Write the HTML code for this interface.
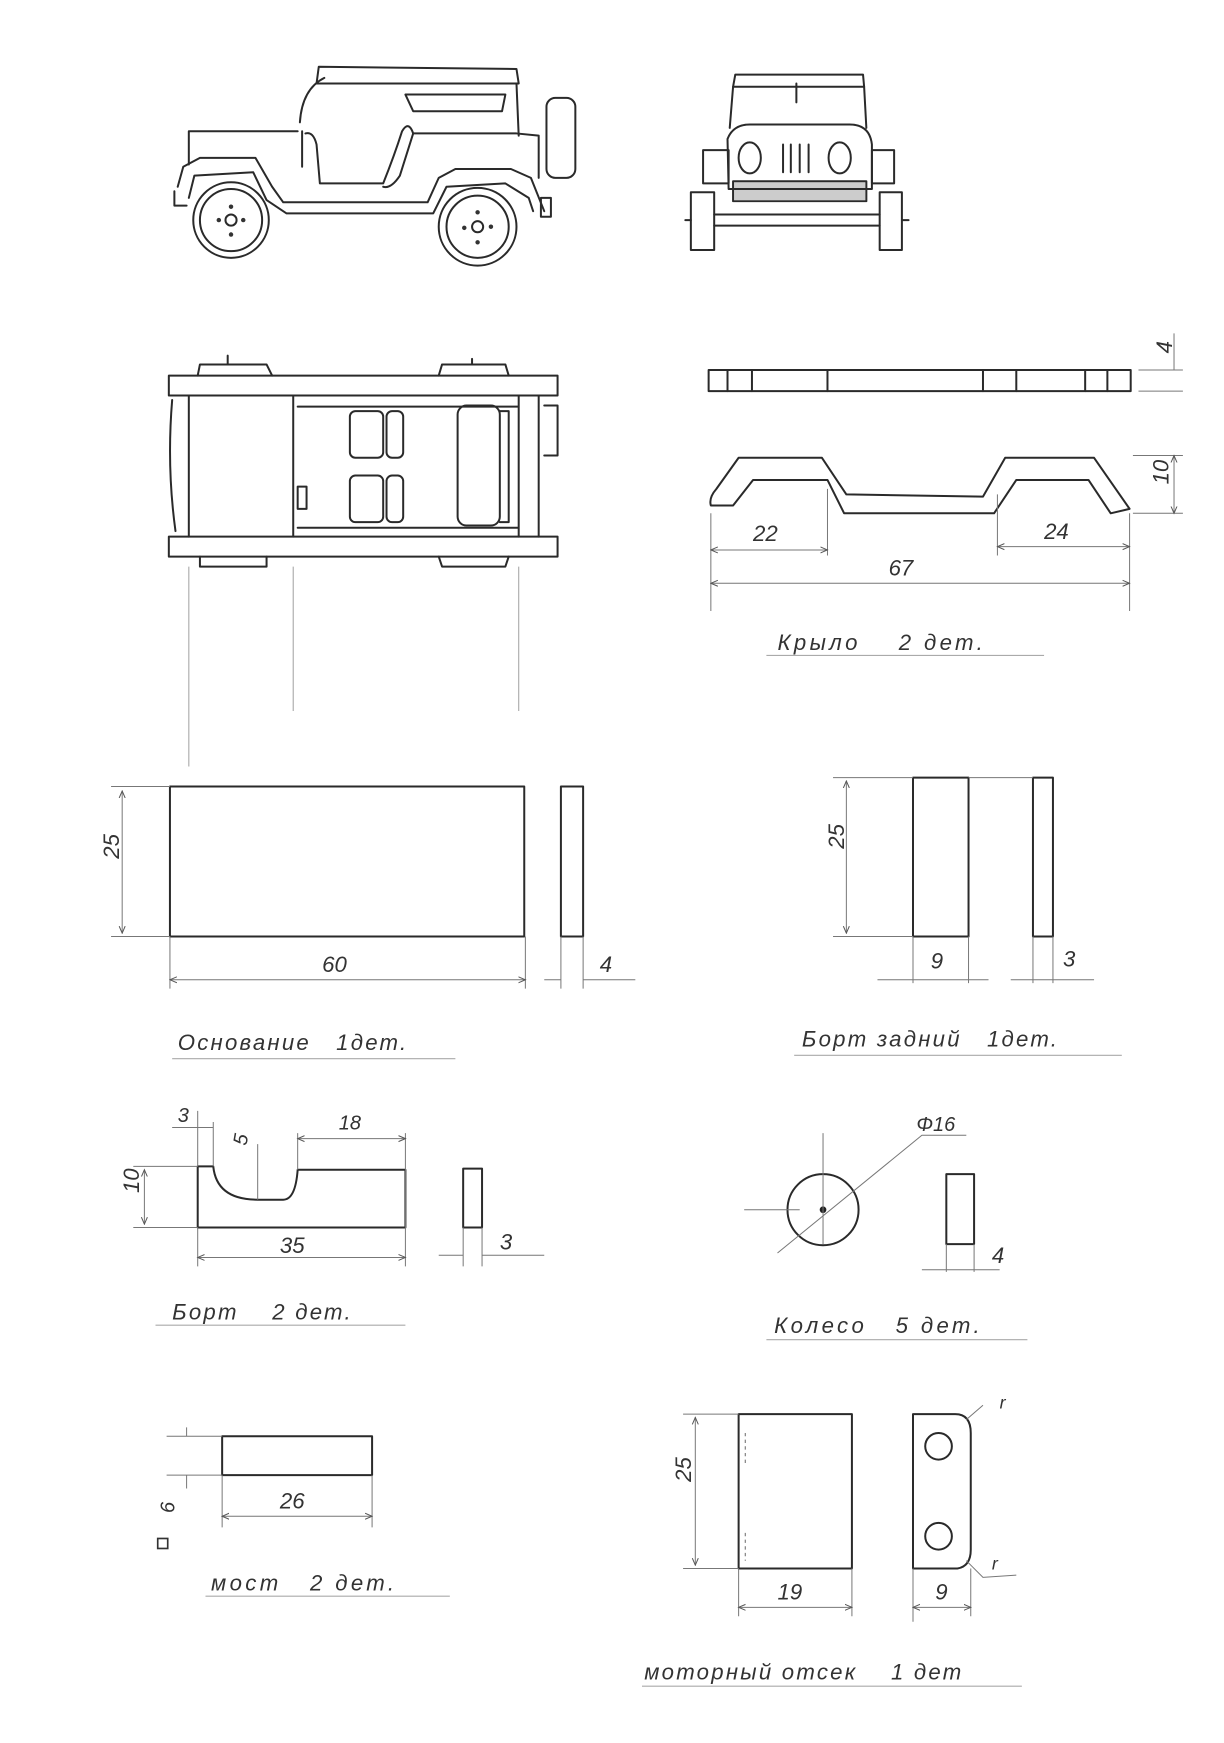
<!DOCTYPE html>
<html><head><meta charset="utf-8">
<style>
html,body{margin:0;padding:0;background:#fff;}
svg{display:block;}
text{font-family:"Liberation Sans",sans-serif;font-style:italic;fill:#333;}
.l{fill:none;stroke:#2a2a2a;stroke-width:1.8;stroke-linecap:round;stroke-linejoin:round;}
.t{fill:none;stroke:#777;stroke-width:0.9;}
.u{fill:none;stroke:#aaa;stroke-width:1;}
</style></head><body>
<svg width="1224" height="1743" viewBox="0 0 1102 1569" xmlns="http://www.w3.org/2000/svg">
<defs><marker id="a" markerWidth="8" markerHeight="8" refX="7" refY="4" orient="auto-start-reverse"><path d="M0,1 L7,4 L0,7" fill="none" stroke="#555" stroke-width="1"/></marker></defs>

<!-- SIDE VIEW CAR -->
<g class="l">
<path d="M285,75 L287,60 L465,62 L467,75 Z"/>
<path d="M270,110 Q272,80 292,70 M465,75 L467,122"/>
<path d="M365,85 L455,85 L452,100 L372,100 Z"/>
<path d="M170,118 L268,118 M170,118 L170,148 M272,118 L272,150"/>
<path d="M275,120 Q282,118 285,130 L288,165 L345,165 Q355,140 362,118 Q368,108 372,120 L360,158 Q352,170 345,168"/>
<path d="M372,120 L465,120 L485,122 L485,160"/>
<rect x="492" y="88" width="26" height="72" rx="8"/>
<path d="M160,168 L165,150 L180,142 L230,142 L245,168 L255,182 L385,182 L395,160 L410,152 L460,152 L478,160 L490,190"/>
<path d="M170,178 L175,158 L228,155 L240,180 L258,192 L390,192 L402,168 L455,165 L476,178 L480,190"/>
<path d="M157,172 L157,185 L168,185"/>
<rect x="487" y="178" width="9" height="17"/>
<circle cx="208" cy="198" r="34"/><circle cx="208" cy="198" r="28"/><circle cx="208" cy="198" r="5"/>
<circle cx="430" cy="204" r="35"/><circle cx="430" cy="204" r="28"/><circle cx="430" cy="204" r="5"/>
</g>
<g fill="#333"><circle cx="208" cy="186" r="2"/><circle cx="197" cy="198" r="2"/><circle cx="219" cy="198" r="2"/><circle cx="208" cy="211" r="2"/>
<circle cx="430" cy="191" r="2"/><circle cx="418" cy="205" r="2"/><circle cx="442" cy="204" r="2"/><circle cx="430" cy="218" r="2"/></g>

<!-- FRONT VIEW -->
<rect x="661" y="164" width="118" height="16" fill="#ccc"/>
<g class="l">
<path d="M660,78 L662,67 L777,67 L778,78 Z"/>
<path d="M660,78 L657,115 M778,78 L780,115 M717,75 L717,92"/>
<path d="M656,170 L655,125 Q660,112 675,112 L765,112 Q783,112 785,130 L785,170 Z"/>
<ellipse cx="675" cy="142" rx="10" ry="14"/><ellipse cx="756" cy="142" rx="10" ry="14"/>
<path d="M705,130 L705,155 M712,130 L712,155 M720,130 L720,155 M728,130 L728,155"/>
<rect x="660" y="163" width="120" height="18"/>
<rect x="633" y="135" width="23" height="30"/><rect x="785" y="135" width="20" height="30"/>
<rect x="622" y="173" width="21" height="52"/><rect x="792" y="173" width="20" height="52"/>
<path d="M643,193 L792,193 M643,203 L792,203 M617,198 L622,198 M812,198 L818,198"/>
</g>

<!-- TOP VIEW -->
<g class="l">
<rect x="152" y="338" width="350" height="18"/>
<rect x="152" y="483" width="350" height="18"/>
<path d="M170,356 L170,483 M155,360 Q150,420 158,478 M264,356 L264,483 M268,366 L467,366 M268,475 L467,475 M467,356 L467,483 M485,356 L485,483"/>
<path d="M178,338 L180,328 L240,328 L245,338 M395,338 L398,328 L455,328 L458,338 M205,320 L205,328 M425,323 L425,328"/>
<path d="M180,501 L180,510 L240,510 L240,501 M395,501 L398,510 L455,510 L458,501"/>
<rect x="315" y="370" width="30" height="42" rx="5"/><rect x="348" y="370" width="15" height="42" rx="5"/>
<rect x="315" y="428" width="30" height="42" rx="5"/><rect x="348" y="428" width="15" height="42" rx="5"/>
<rect x="412" y="365" width="38" height="108" rx="8"/><path d="M450,370 L458,370 L458,470 L450,470"/>
<rect x="268" y="438" width="8" height="20"/>
<path d="M490,365 L502,365 L502,410 L490,410"/>
</g>
<path class="u" d="M170,510 L170,690 M264,510 L264,640 M467,510 L467,640"/>

<!-- FENDER -->
<g class="l">
<rect x="638" y="333" width="380" height="19"/>
<path d="M655,333 L655,352 M677,333 L677,352 M745,333 L745,352 M885,333 L885,352 M915,333 L915,352 M977,333 L977,352 M997,333 L997,352"/>
<path d="M640,455 Q638,448 645,440 L665,412 L740,412 L762,445 L885,447 L905,412 L985,412 L1017,458 L1000,462 L980,432 L915,432 L895,462 L760,462 L745,432 L678,432 L660,455 Z"/>
</g>
<g class="t">
<path d="M1025,352 L1065,352 M1025,333 L1065,333 M1057,300 L1057,333 M1020,410 L1065,410 M1020,462 L1065,462"/>
<path d="M1057,410 L1057,462" marker-start="url(#a)" marker-end="url(#a)"/>
<path d="M640,462 L640,550 M745,440 L745,500 M898,445 L898,500 M1017,462 L1017,550"/>
<path d="M640,495 L745,495" marker-start="url(#a)" marker-end="url(#a)"/>
<path d="M898,492 L1017,492" marker-start="url(#a)" marker-end="url(#a)"/>
<path d="M640,525 L1017,525" marker-start="url(#a)" marker-end="url(#a)"/>
</g>
<text x="1048" y="325" font-size="20" transform="rotate(-90 1048 318)">4</text>
<text x="1048" y="440" font-size="20" transform="rotate(-90 1048 436)">10</text>
<text x="678" y="487" font-size="20">22</text>
<text x="940" y="485" font-size="20">24</text>
<text x="800" y="518" font-size="20">67</text>
<text x="700" y="585" font-size="20" letter-spacing="3">Крыло&#160;&#160;&#160;&#160;2 дет.</text>
<path class="u" d="M690,590 L940,590"/>

<!-- ОСНОВАНИЕ -->
<g class="l"><rect x="153" y="708" width="319" height="135"/><rect x="505" y="708" width="20" height="135"/></g>
<g class="t">
<path d="M100,708 L153,708 M100,843 L153,843 M153,843 L153,890 M473,843 L473,890 M505,843 L505,890 M525,843 L525,890"/>
<path d="M110,712 L110,840" marker-start="url(#a)" marker-end="url(#a)"/>
<path d="M153,882 L473,882" marker-start="url(#a)" marker-end="url(#a)"/>
<path d="M490,882 L505,882 M525,882 L572,882"/>
</g>
<text x="105" y="785" font-size="20" transform="rotate(-90 100 778)">25</text>
<text x="290" y="875" font-size="20">60</text>
<text x="540" y="875" font-size="20">4</text>
<text x="160" y="945" font-size="20" letter-spacing="2">Основание&#160;&#160;&#160;1дет.</text>
<path class="u" d="M155,953 L410,953"/>

<!-- БОРТ ЗАДНИЙ -->
<g class="l"><rect x="822" y="700" width="50" height="143"/><rect x="930" y="700" width="18" height="143"/></g>
<g class="t">
<path d="M750,700 L822,700 M872,700 L930,700 M750,843 L822,843 M822,843 L822,885 M872,843 L872,885 M930,843 L930,885 M948,843 L948,885"/>
<path d="M762,703 L762,840" marker-start="url(#a)" marker-end="url(#a)"/>
<path d="M790,882 L890,882 M910,882 L985,882"/>
</g>
<text x="760" y="780" font-size="20" transform="rotate(-90 752 772)">25</text>
<text x="838" y="872" font-size="20">9</text>
<text x="957" y="870" font-size="20">3</text>
<text x="722" y="942" font-size="20" letter-spacing="2">Борт задний&#160;&#160;&#160;1дет.</text>
<path class="u" d="M715,950 L1010,950"/>

<!-- БОРТ -->
<g class="l">
<path d="M178,1105 L178,1050 L192,1050 Q195,1080 232,1080 L255,1080 Q266,1080 268,1053 L365,1053 L365,1105 Z"/>
<rect x="417" y="1052" width="17" height="53"/>
</g>
<g class="t">
<path d="M120,1050 L178,1050 M120,1105 L178,1105 M178,1000 L178,1050 M192,1010 L192,1050 M268,1020 L268,1053 M365,1020 L365,1140 M178,1105 L178,1140 M417,1105 L417,1140 M434,1105 L434,1140"/>
<path d="M130,1053 L130,1102" marker-start="url(#a)" marker-end="url(#a)"/>
<path d="M178,1132 L365,1132" marker-start="url(#a)" marker-end="url(#a)"/>
<path d="M268,1025 L365,1025" marker-start="url(#a)" marker-end="url(#a)"/>
<path d="M155,1015 L192,1015 M232,1030 L232,1080 M395,1130 L417,1130 M434,1130 L490,1130"/>
</g>
<text x="122" y="1085" font-size="20" transform="rotate(-90 118 1078)">10</text>
<text x="252" y="1128" font-size="20">35</text>
<text x="160" y="1010" font-size="18">3</text>
<text x="212" y="1030" font-size="18" transform="rotate(-80 218 1025)">5</text>
<text x="305" y="1017" font-size="18">18</text>
<text x="450" y="1125" font-size="20">3</text>
<text x="155" y="1188" font-size="20" letter-spacing="2">Борт&#160;&#160;&#160;&#160;2 дет.</text>
<path class="u" d="M140,1193 L365,1193"/>

<!-- КОЛЕСО -->
<g class="l"><circle cx="741" cy="1089" r="32"/><rect x="852" y="1057" width="25" height="63"/></g>
<circle cx="741" cy="1089" r="3" fill="#222"/>
<g class="t"><path d="M700,1128 L830,1022 L870,1022 M741,1020 L741,1120 M670,1089 L720,1089 M852,1120 L852,1145 M877,1120 L877,1145 M830,1143 L900,1143"/></g>
<text x="825" y="1018" font-size="18">Φ16</text>
<text x="893" y="1137" font-size="20">4</text>
<text x="697" y="1200" font-size="20" letter-spacing="3">Колесо&#160;&#160;&#160;5 дет.</text>
<path class="u" d="M690,1206 L925,1206"/>

<!-- МОСТ -->
<g class="l"><rect x="200" y="1293" width="135" height="35"/></g>
<g class="t">
<path d="M150,1293 L200,1293 M150,1328 L200,1328 M200,1328 L200,1375 M335,1328 L335,1375"/>
<path d="M168,1285 L168,1293 M168,1328 L168,1340"/>
<path d="M200,1365 L335,1365" marker-start="url(#a)" marker-end="url(#a)"/>
</g>
<text x="252" y="1358" font-size="20">26</text>
<rect x="142" y="1385" width="9" height="9" fill="none" stroke="#333" stroke-width="1.5"/>
<text x="156" y="1375" font-size="18" transform="rotate(-90 150 1368)">6</text>
<text x="190" y="1432" font-size="20" letter-spacing="3">мост&#160;&#160;&#160;2 дет.</text>
<path class="u" d="M185,1437 L405,1437"/>

<!-- МОТОРНЫЙ ОТСЕК -->
<g class="l">
<rect x="665" y="1273" width="102" height="139"/>
<path d="M822,1273 L822,1412 L862,1412 Q874,1410 874,1395 L874,1290 Q874,1273 860,1273 Z"/>
<circle cx="845" cy="1302" r="12"/><circle cx="845" cy="1383" r="12"/>
</g>
<path d="M671,1290 L671,1320 M671,1380 L671,1405" stroke="#777" stroke-dasharray="3 3"/>
<g class="t">
<path d="M615,1273 L665,1273 M615,1412 L665,1412 M665,1412 L665,1455 M767,1412 L767,1455 M822,1412 L822,1460 M874,1412 L874,1455"/>
<path d="M626,1276 L626,1409" marker-start="url(#a)" marker-end="url(#a)"/>
<path d="M665,1447 L767,1447" marker-start="url(#a)" marker-end="url(#a)"/>
<path d="M822,1447 L874,1447" marker-start="url(#a)" marker-end="url(#a)"/>
<path d="M870,1278 L885,1265 M870,1405 L885,1420 L915,1418"/>
</g>
<text x="622" y="1350" font-size="20" transform="rotate(-90 614 1342)">25</text>
<text x="700" y="1440" font-size="20">19</text>
<text x="842" y="1440" font-size="20">9</text>
<text x="900" y="1268" font-size="16">r</text>
<text x="893" y="1413" font-size="16">r</text>
<text x="580" y="1512" font-size="20" letter-spacing="2">моторный отсек&#160;&#160;&#160;&#160;1 дет</text>
<path class="u" d="M578,1518 L920,1518"/>
</svg>
</body></html>
